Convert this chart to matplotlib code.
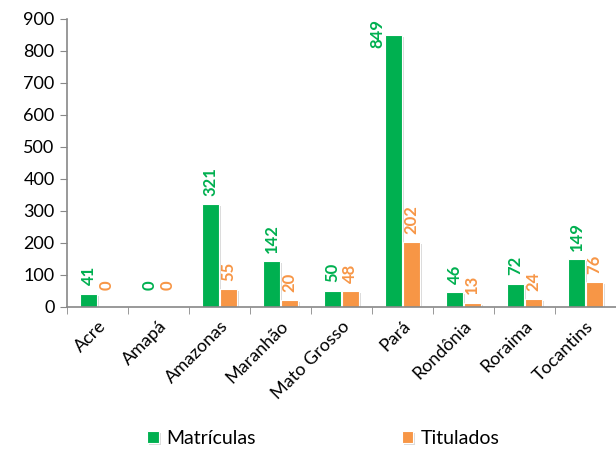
import matplotlib.pyplot as plt
import matplotlib.patheffects as pe
import numpy as np

# state data
estados = ['Acre', 'Amapá', 'Amazonas', 'Maranhão', 'Mato Grosso', 'Pará', 'Rondônia', 'Roraima', 'Tocantins']
matriculas = [41, 0, 321, 142, 50, 849, 46, 72, 149]
titulados = [0, 0, 55, 20, 48, 202, 13, 24, 76]

verde = '#00B050'
laranja = '#F79646'
cinza = '#888888'

plt.rcParams['font.family'] = ['Lato', 'DejaVu Sans']

fig = plt.figure(figsize=(6.16, 4.53), dpi=100)
ax = fig.add_axes([0.1088, 0.323, 0.8912, 0.6357])

x = np.arange(len(estados))
w = 0.27
sombra = [pe.SimplePatchShadow(offset=(1.5, -1.5), shadow_rgbFace='#999999', alpha=0.35), pe.Normal()]
b1 = ax.bar(x - w / 2 - 0.01, matriculas, w, color=verde, edgecolor='white', linewidth=0.8,
            label='Matrículas', path_effects=sombra)
b2 = ax.bar(x + w / 2 + 0.01, titulados, w, color=laranja, edgecolor='white', linewidth=0.8,
            label='Titulados', path_effects=sombra)

ymax = 900
ax.set_ylim(0, ymax)
ax.set_xlim(-0.5, len(estados) - 0.5)

# value labels, rotated, just above each bar
for serie, cor, dx in [(matriculas, verde, -w / 2 - 0.01), (titulados, laranja, w / 2 + 0.01)]:
    for xi, v in zip(x, serie):
        if v > 0.85 * ymax:
            # too tall: keep the label inside the plot, beside the bar
            ax.annotate(str(v), (xi + dx - w, ymax), ha='center', va='top', rotation=90,
                        color=cor, fontsize=12, fontweight='bold', annotation_clip=False)
        else:
            off = 12 if v == 0 else 6
            ax.annotate(str(v), (xi + dx, v), xytext=(0, off), textcoords='offset points',
                        ha='center', va='bottom', rotation=90, color=cor,
                        fontsize=12, fontweight='bold')

ax.set_yticks(np.arange(0, 901, 100))
ax.tick_params(axis='y', labelsize=13, length=5, color=cinza, pad=4)
ax.set_xticks(x)
ax.set_xticklabels(estados, rotation=45, ha='right', rotation_mode='anchor', fontsize=13)
ax.tick_params(axis='x', which='major', length=0, pad=8)
ax.set_xticks(np.arange(-0.5, len(estados)), minor=True)
ax.tick_params(axis='x', which='minor', length=5, color=cinza)

for s in ['top', 'right']:
    ax.spines[s].set_visible(False)
for s in ['left', 'bottom']:
    ax.spines[s].set_color(cinza)
    ax.spines[s].set_linewidth(1.2)

fig.legend(handles=[b1, b2], loc='center', bbox_to_anchor=(0.525, 0.033), ncol=2,
           frameon=False, fontsize=14, handlelength=0.6, handleheight=0.6,
           handletextpad=0.4, columnspacing=7.5)

fig.savefig('out.png', dpi=100)
